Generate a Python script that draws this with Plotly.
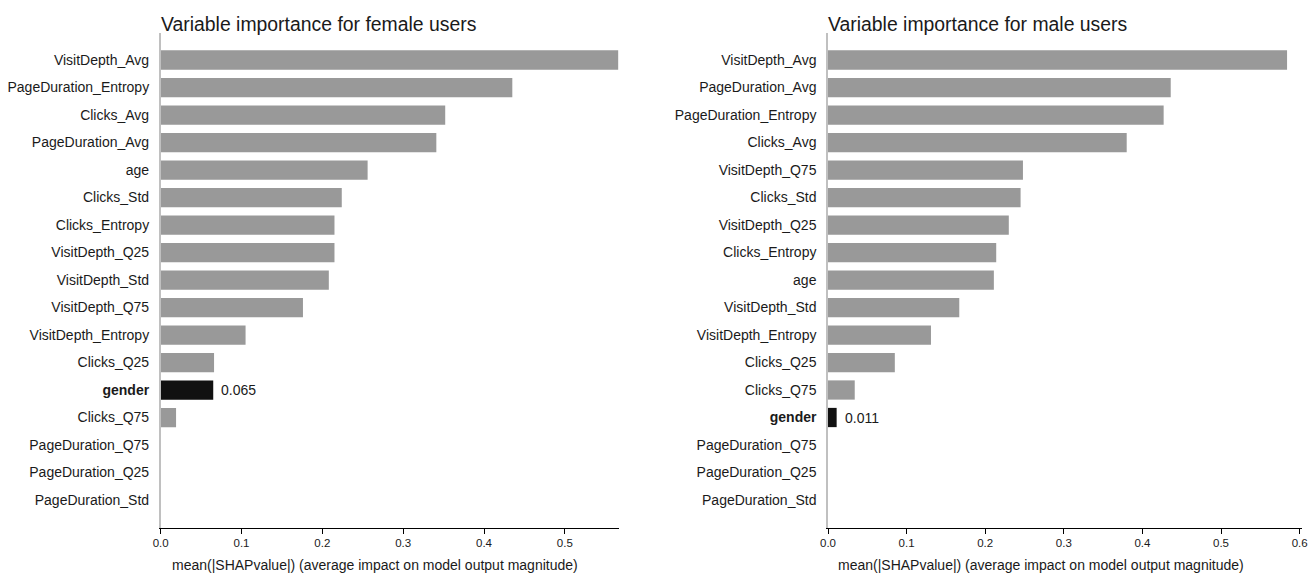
import plotly.graph_objects as go

female_features = ["VisitDepth_Avg", "PageDuration_Entropy", "Clicks_Avg", "PageDuration_Avg", "age",
                   "Clicks_Std", "Clicks_Entropy", "VisitDepth_Q25", "VisitDepth_Std", "VisitDepth_Q75",
                   "VisitDepth_Entropy", "Clicks_Q25", "gender", "Clicks_Q75", "PageDuration_Q75",
                   "PageDuration_Q25", "PageDuration_Std"]
female_values = [0.566, 0.435, 0.352, 0.341, 0.256, 0.224, 0.215, 0.215, 0.208, 0.176,
                 0.105, 0.066, 0.065, 0.019, 0.0, 0.0, 0.0]

male_features = ["VisitDepth_Avg", "PageDuration_Avg", "PageDuration_Entropy", "Clicks_Avg", "VisitDepth_Q75",
                 "Clicks_Std", "VisitDepth_Q25", "Clicks_Entropy", "age", "VisitDepth_Std",
                 "VisitDepth_Entropy", "Clicks_Q25", "Clicks_Q75", "gender", "PageDuration_Q75",
                 "PageDuration_Q25", "PageDuration_Std"]
male_values = [0.584, 0.436, 0.427, 0.380, 0.248, 0.245, 0.230, 0.214, 0.211, 0.167,
               0.131, 0.085, 0.034, 0.011, 0.0, 0.0, 0.0]

titles = ["Variable importance for female users", "Variable importance for male users"]
x_label = "mean(|SHAPvalue|) (average impact on model output magnitude)"
highlight = "gender"

W, H = 1316, 575
FONT = "Liberation Sans, Arial, Helvetica, sans-serif"
GRAY = "#999999"
DARK = "#111111"
TXT = "#1a1a1a"


def px_x(X):
    return X / W


def px_y(Y):
    return 1 - Y / H


panels = [
    dict(features=female_features, values=female_values, x0=160.7, x1=619, xmax=0.567, title=titles[0], label_cx=375),
    dict(features=male_features, values=male_values, x0=828, x1=1302, xmax=0.603, title=titles[1], label_cx=1041),
]
y_top, y_bot = 32.5, 527.5

fig = go.Figure()
annotations = []
for i, p in enumerate(panels):
    sfx = "" if i == 0 else str(i + 1)
    colors = [DARK if f == highlight else GRAY for f in p["features"]]
    fig.add_trace(go.Bar(
        x=p["values"], y=p["features"], orientation="h",
        marker=dict(color=colors, line=dict(width=0)),
        width=0.7, xaxis="x" + sfx, yaxis="y" + sfx, showlegend=False,
        hoverinfo="x+y",
    ))
    order = list(reversed(p["features"]))
    ticktext = ["<b>%s</b>" % f if f == highlight else f for f in order]
    fig.update_layout(**{
        "xaxis" + sfx: dict(
            domain=[px_x(p["x0"]), px_x(p["x1"])], range=[0, p["xmax"]], anchor="y" + sfx,
            automargin=False,
            showgrid=False, zeroline=False, showline=True, linecolor="#000000", linewidth=1,
            ticks="outside", ticklen=5, tickwidth=1, tickcolor="#000000",
            dtick=0.1, tick0=0, tickformat=".1f",
            tickfont=dict(family=FONT, size=11.5, color=TXT),
        ),
        "yaxis" + sfx: dict(
            domain=[px_y(y_bot), px_y(y_top)], anchor="x" + sfx,
            automargin=False,
            type="category", categoryorder="array", categoryarray=order,
            tickvals=order, ticktext=ticktext, range=[-1, len(order)],
            showgrid=False, zeroline=False, showline=True, linecolor="#c0c0c0", linewidth=1.5,
            ticks="", ticklabelstandoff=7,
            tickfont=dict(family=FONT, size=14, color=TXT),
        ),
    })
    for f, v in zip(p["features"], p["values"]):
        if f == highlight:
            annotations.append(dict(
                x=v, y=f, xref="x" + sfx, yref="y" + sfx, text="%.3f" % v,
                showarrow=False, xanchor="left", yanchor="middle", xshift=6,
                font=dict(family=FONT, size=14, color=TXT),
            ))
    annotations.append(dict(
        x=px_x(p["x0"]), y=px_y(24), xref="paper", yref="paper", text=p["title"],
        showarrow=False, xanchor="left", yanchor="middle", xshift=-2,
        font=dict(family=FONT, size=19.4, color=TXT),
    ))
    annotations.append(dict(
        x=px_x(p["label_cx"]), y=px_y(565), xref="paper", yref="paper", text=x_label,
        showarrow=False, xanchor="center", yanchor="middle",
        font=dict(family=FONT, size=14, color=TXT),
    ))

fig.update_layout(
    width=W, height=H, margin=dict(l=0, r=0, t=0, b=0, autoexpand=False),
    paper_bgcolor="white", plot_bgcolor="white",
    annotations=annotations, bargap=0.3,
)
fig.write_html("out.html", config={"displayModeBar": False},
               post_script="document.body.style.margin='0';")
